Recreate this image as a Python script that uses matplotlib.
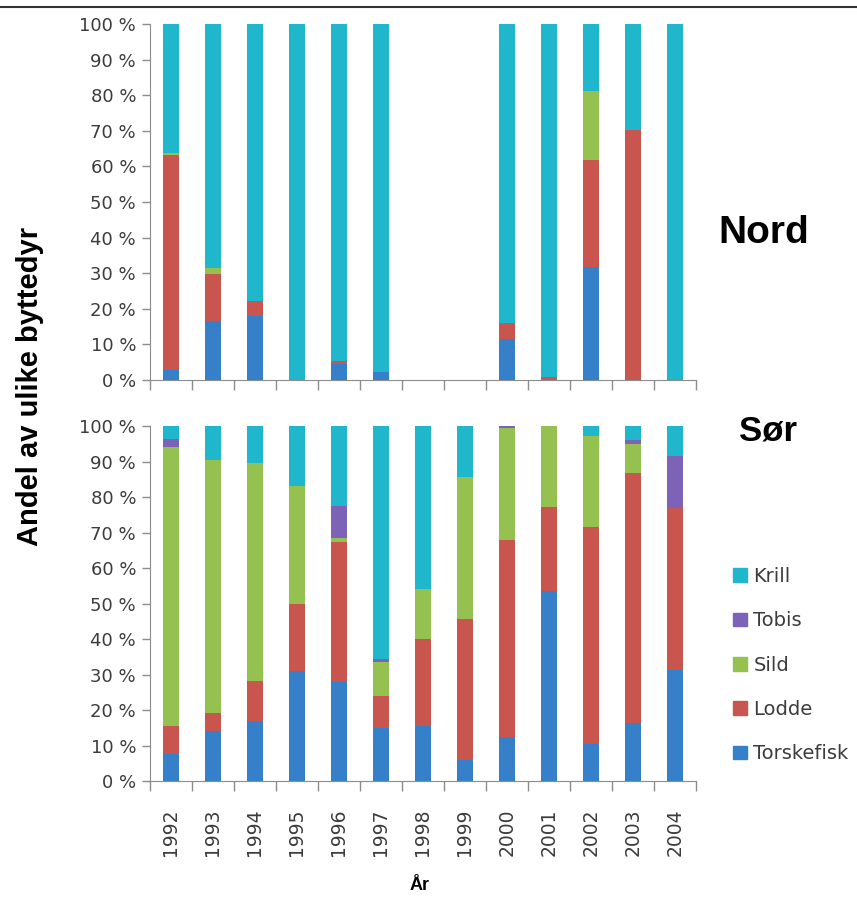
import numpy as np
import matplotlib
matplotlib.use("Agg")
import matplotlib.pyplot as plt
from matplotlib.patches import Patch
from matplotlib.lines import Line2D

years = ['1992', '1993', '1994', '1995', '1996', '1997', '1998',
         '1999', '2000', '2001', '2002', '2003', '2004']
prey = ['Torskefisk', 'Lodde', 'Sild', 'Tobis', 'Krill']
colors = ['#3580c9', '#c9554f', '#95c150', '#7d63b8', '#20b6cc']

# Nord (percent), no samples in 1998 and 1999
nord_torsk = [2.8, 16.7, 18.0, 0, 4.5, 2.3, 0, 0, 11.5, 0, 31.7, 0, 0]
nord_lodde = [60.5, 13.0, 4.2, 0, 0.7, 0, 0, 0, 4.4, 0.9, 30.2, 70.1, 0]
nord_sild = [0.5, 1.7, 0, 0, 0, 0, 0, 0, 0, 0, 19.4, 0, 0]
nord_tobis = [0, 0, 0, 0, 0, 0, 0, 0, 0, 0, 0, 0, 0]
nord_krill = [36.2, 68.6, 77.8, 100, 94.8, 97.7, 0, 0, 84.1, 99.1, 18.7, 29.9, 100]

# Sør (percent)
sor_torsk = [7.5, 14.1, 17.0, 31.0, 27.9, 14.8, 15.5, 5.8, 12.4, 53.6, 10.5, 16.4, 31.4]
sor_lodde = [8.0, 5.1, 11.1, 18.8, 39.5, 9.1, 24.6, 39.7, 55.5, 23.7, 61.1, 70.3, 45.4]
sor_sild = [78.5, 71.2, 61.4, 33.4, 1.1, 9.5, 14.1, 40.0, 31.6, 22.7, 25.6, 8.1, 0]
sor_tobis = [2.2, 0, 0, 0, 9.0, 0.9, 0, 0, 0.5, 0, 0, 1.3, 14.8]
sor_krill = [3.8, 9.6, 10.5, 16.8, 22.5, 65.7, 45.8, 14.5, 0, 0, 2.8, 3.9, 8.4]

nord = [nord_torsk, nord_lodde, nord_sild, nord_tobis, nord_krill]
sor = [sor_torsk, sor_lodde, sor_sild, sor_tobis, sor_krill]

W, H = 857, 897
fig = plt.figure(figsize=(W / 100, H / 100), dpi=100)
ax1 = fig.add_axes([150 / W, 1 - 380 / H, 546 / W, 356 / H])
ax2 = fig.add_axes([150 / W, 1 - 781 / H, 546 / W, 355 / H])

tick_col = '#3c3c3c'
spine_col = '#8c8c8c'
x = np.arange(len(years))


def draw_panel(ax, series):
    bottom = np.zeros(len(years))
    for vals, col in zip(series, colors):
        vals = np.array(vals, dtype=float)
        ax.bar(x, vals, width=0.4, bottom=bottom, color=col, linewidth=0)
        bottom += vals
    ax.set_xlim(-0.5, len(years) - 0.5)
    ax.set_ylim(0, 100)
    ax.set_yticks(np.arange(0, 101, 10))
    ax.set_yticklabels([f'{v} %' for v in range(0, 101, 10)])
    ax.set_xticks(np.arange(-0.5, len(years), 1.0))
    ax.set_xticklabels([])
    ax.tick_params(axis='y', colors=spine_col, labelcolor=tick_col,
                   labelsize=13, length=6, width=1, pad=4)
    ax.tick_params(axis='x', colors=spine_col, length=7, width=1)
    for s in ['top', 'right']:
        ax.spines[s].set_visible(False)
    for s in ['left', 'bottom']:
        ax.spines[s].set_color(spine_col)


draw_panel(ax1, nord)
draw_panel(ax2, sor)

# year labels at bar centres
ax2.set_xticks(x, minor=True)
ax2.set_xticklabels(years, minor=True, rotation=90)
ax2.tick_params(axis='x', which='minor', length=0, labelsize=13.5,
                labelcolor=tick_col, pad=20)

fig.text(420 / W, 1 - 885 / H, 'År', ha='center', va='center',
         fontsize=13, fontweight='bold', family='Liberation Sans')
fig.text(30 / W, 1 - 386 / H, 'Andel av ulike byttedyr', rotation=90,
         ha='center', va='center', fontsize=21, fontweight='bold',
         family='Liberation Sans')
fig.text(764 / W, 1 - 233 / H, 'Nord', ha='center', va='center',
         fontsize=28, fontweight='bold', family='Liberation Sans')
fig.text(768 / W, 1 - 431 / H, 'Sør', ha='center', va='center',
         fontsize=25, fontweight='bold', family='Liberation Sans')

handles = [Patch(color=c, label=p) for p, c in zip(prey, colors)][::-1]
fig.legend(handles=handles, loc='upper left',
           bbox_to_anchor=(733 / W, 1 - 567 / H), frameon=False,
           fontsize=14, labelcolor=tick_col, handlelength=0.7,
           handleheight=0.7, handletextpad=0.35, labelspacing=1.3,
           borderaxespad=0, borderpad=0)

fig.add_artist(Line2D([0, 1], [1 - 7 / H, 1 - 7 / H], color='#333333',
                      linewidth=1.5, transform=fig.transFigure))

fig.savefig('out.png', dpi=100)
